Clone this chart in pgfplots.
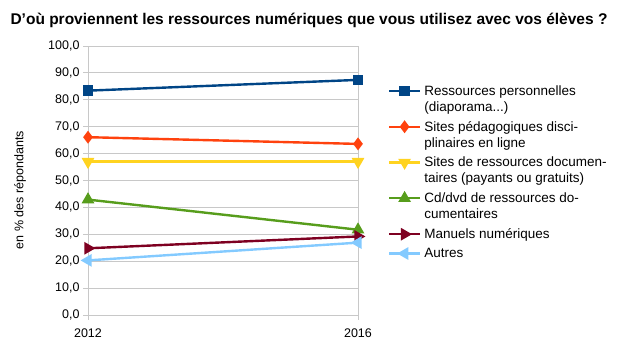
\documentclass[border=0pt]{standalone}
\usepackage{pgfplots}
\pgfplotsset{compat=1.18}
\usepackage{fontspec}
\setmainfont{Liberation Sans}
\definecolor{c1}{HTML}{004586}
\definecolor{c2}{HTML}{FF420E}
\definecolor{c3}{HTML}{FFD320}
\definecolor{c4}{HTML}{579D1C}
\definecolor{c5}{HTML}{7E0021}
\definecolor{c6}{HTML}{83CAFF}
\definecolor{gridc}{HTML}{C8C8C8}
\begin{document}
\begin{tikzpicture}
\begin{axis}[
  at={(0,0)}, anchor=south west,
  scale only axis, width=270pt, height=269pt,
  xmin=2012, xmax=2016, ymin=0, ymax=100,
  xtick={2012,2016}, xticklabels={2012,2016},
  ytick={0,10,...,100},
  grid=major, major grid style={draw=gridc, line width=0.9pt},
  axis x line*=bottom, axis y line*=left,
  axis line style={draw=gridc, line width=0.9pt},
  tick align=outside, major tick length=5pt,
  tick style={draw=gridc, line width=0.9pt},
  ticklabel style={font=\fontsize{12.5}{14}\selectfont, text=black},
  yticklabel style={/pgf/number format/.cd, fixed, fixed zerofill, precision=1, use comma, 1000 sep={}, assume math mode=true},
  xticklabel style={/pgf/number format/assume math mode=true, yshift=-5pt},
  oneline/.style={legend image code/.code={\draw[mark repeat=2,mark phase=2] plot coordinates {(0pt,4.4pt) (15.5pt,4.4pt) (31pt,4.4pt)};}},
  twoline/.style={legend image code/.code={\draw[mark repeat=2,mark phase=2] plot coordinates {(0pt,20.4pt) (15.5pt,20.4pt) (31pt,20.4pt)};}},
  legend style={draw=none, fill=none, at={(1.11,0.858)}, anchor=north west,
    inner sep=0pt, row sep=6.5pt, column sep=2pt,
    cells={anchor=base west},
    nodes={align=left, inner sep=1pt, font=\fontsize{13.5}{16}\selectfont}},
  every axis plot/.append style={line width=2.4pt},
]
\addplot[twoline, c1, mark=square*, mark size=4pt] coordinates {(2012,83.4) (2016,87.4)};
\addlegendentry{Ressources personnelles\\(diaporama...)}
\addplot[twoline, c2, mark=diamond*, mark size=4.5pt] coordinates {(2012,66.1) (2016,63.6)};
\addlegendentry{Sites pédagogiques disci-\\plinaires en ligne}
\addplot[twoline, c3, mark=triangle*, mark size=5pt, mark options={rotate=180}] coordinates {(2012,57.0) (2016,57.0)};
\addlegendentry{Sites de ressources documen-\\taires (payants ou gratuits)}
\addplot[twoline, c4, mark=triangle*, mark size=5pt] coordinates {(2012,42.9) (2016,31.7)};
\addlegendentry{Cd/dvd de ressources do-\\cumentaires}
\addplot[oneline, c5, mark=triangle*, mark size=5pt, mark options={rotate=-90}] coordinates {(2012,24.8) (2016,29.2)};
\addlegendentry{Manuels numériques}
\addplot[oneline, c6, mark=triangle*, mark size=5pt, mark options={rotate=90}] coordinates {(2012,20.3) (2016,26.9)};
\addlegendentry{Autres}
\end{axis}
\node[anchor=west, font=\fontsize{15.5}{18}\selectfont\bfseries] at (-81pt,295pt) {D'où proviennent les ressources numériques que vous utilisez avec vos élèves ?};
\node[rotate=90, font=\fontsize{12.5}{14}\selectfont] at (-68pt,125pt) {en \% des répondants};
\path[use as bounding box] (-88pt,-35pt) rectangle (541pt,315pt);
\end{tikzpicture}
\end{document}
